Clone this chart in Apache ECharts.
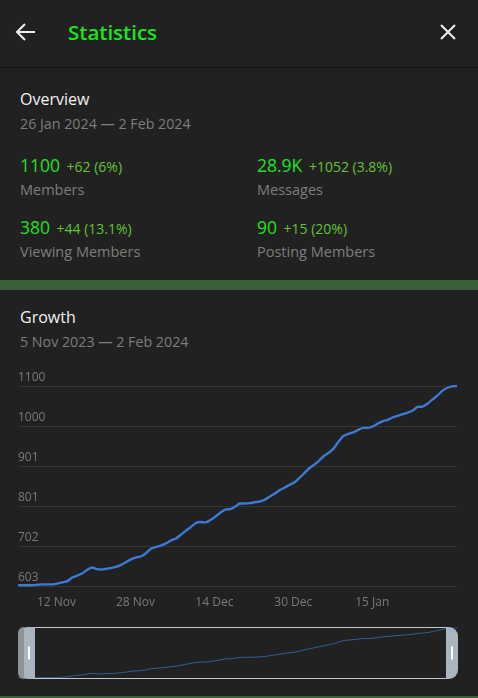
<!DOCTYPE html>
<html>
<head>
<meta charset="utf-8">
<title>Statistics</title>
<script src="https://cdn.jsdelivr.net/npm/echarts@6/dist/echarts.min.js"></script>
<style>
html,body{margin:0;padding:0;background:#212121;width:478px;height:698px;overflow:hidden;font-family:"Open Sans",sans-serif;}
.t{position:absolute;white-space:nowrap;line-height:24px;}
.head{position:absolute;left:0;top:67px;width:478px;height:1px;background:#111;}
.band{position:absolute;left:0;width:478px;background:#3a5f3a;}
.title{font-size:16px;color:#f2f2f2;}
.date{font-size:14.25px;color:#7d7d7d;}
.num{font-size:17.5px;color:#1fe31f;}
.num span{font-size:14px;color:#62c431;margin-left:2px;}
.lab{font-size:14.5px;color:#7d7d7d;}
svg{position:absolute;}
#main{position:absolute;left:0;top:360px;width:478px;height:336px;}
</style>
</head>
<body>
	<svg style="left:14px;top:20px" width="24" height="24" viewBox="0 0 24 24" fill="none" stroke="#eee" stroke-width="2">
		<path d="M21 12H3M11 4l-8 8 8 8"/>
	</svg>
	<div class="t" style="left:68px;top:20px;font-size:20.5px;font-weight:600;color:#1fe31f">Statistics</div>
	<svg style="left:436px;top:20px" width="24" height="24" viewBox="0 0 24 24" fill="none" stroke="#eee" stroke-width="2">
		<path d="M5 5l14 14M19 5L5 19"/>
	</svg>
	<div class="head"></div>

	<div class="t title" style="left:20px;top:87px">Overview</div>
	<div class="t date" style="left:20px;top:112px">26 Jan 2024 — 2 Feb 2024</div>

	<div class="t num" style="left:20px;top:153px">1100 <span>+62 (6%)</span></div>
	<div class="t lab" style="left:20px;top:178px">Members</div>
	<div class="t num" style="left:257px;top:153px">28.9K <span>+1052 (3.8%)</span></div>
	<div class="t lab" style="left:257px;top:178px">Messages</div>
	<div class="t num" style="left:20px;top:215px">380 <span>+44 (13.1%)</span></div>
	<div class="t lab" style="left:20px;top:240px">Viewing Members</div>
	<div class="t num" style="left:257px;top:215px">90 <span>+15 (20%)</span></div>
	<div class="t lab" style="left:257px;top:240px">Posting Members</div>

	<div class="band" style="top:280px;height:10px"></div>

	<div class="t title" style="left:20px;top:305px">Growth</div>
	<div class="t date" style="left:20px;top:330px">5 Nov 2023 — 2 Feb 2024</div>

	<div id="main"></div>
	<div class="band" style="top:696px;height:2px"></div>
<script>
// 90 days, 5 Nov 2023 to 2 Feb 2024
var months = ['Nov','Dec','Jan','Feb'];
var monthDays = [30,31,31,2];
var firstDay = 5;
var members = [
	605,605,605,605,606,607,607,607,609,612,
	615,624,629,634,643,649,645,644,646,648,
	651,656,663,670,674,677,685,696,700,704,
	709,716,721,730,740,749,759,762,761,767,
	775,785,793,794,800,808,808,809,811,813,
	817,825,832,841,847,854,860,871,883,895,
	904,914,926,934,945,962,976,981,985,991,
	996,996,1000,1007,1013,1016,1022,1026,1030,1034,
	1039,1048,1049,1056,1066,1076,1088,1095,1099,1100
];
var yTicks = [603,702,801,901,1000,1100];
var xLabels = ['12 Nov','28 Nov','14 Dec','30 Dec','15 Jan'];

var days = [];
var m = 0, d = firstDay;
for (var i = 0; i < members.length; i++) {
	days.push(d + ' ' + months[m]);
	d++;
	if (d > monthDays[m]) { d = 1; m++; }
}

var myChart = echarts.init(document.getElementById('main'));
var textFont = '"Open Sans", sans-serif';
var handleColor = '#a9b5c1';

myChart.setOption({
	animation: false,
	backgroundColor: 'transparent',
	grid: [
		{ left: 18, top: 26, width: 439, height: 200 },
		{ left: 18, top: 268, width: 440, height: 50 }
	],
	xAxis: [
		{
			type: 'category',
			gridIndex: 0,
			boundaryGap: false,
			data: days,
			axisLine: { show: false },
			axisTick: { show: false },
			splitLine: { show: false },
			axisLabel: {
				color: '#7a7a7a',
				fontSize: 12,
				fontFamily: textFont,
				margin: 11,
				padding: [0, 0, 0, 8],
				interval: function (index, value) {
					return xLabels.indexOf(value) >= 0;
				}
			}
		},
		{
			type: 'category',
			gridIndex: 1,
			boundaryGap: false,
			data: days,
			axisLine: { show: false },
			axisTick: { show: false },
			axisLabel: { show: false },
			splitLine: { show: false }
		}
	],
	yAxis: [
		{
			type: 'value',
			gridIndex: 0,
			min: 603,
			max: 1100,
			axisLine: { show: false },
			axisTick: { show: false, customValues: yTicks },
			splitLine: { show: true, lineStyle: { color: '#343434', width: 1 } },
			axisLabel: {
				customValues: yTicks,
				inside: true,
				margin: 0,
				color: '#7a7a7a',
				fontSize: 12,
				fontFamily: textFont,
				verticalAlign: 'bottom',
				padding: [0, 0, 2.5, 0],
				formatter: function (value) {
					return String(value);
				}
			}
		},
		{
			type: 'value',
			gridIndex: 1,
			min: 603,
			max: 1100,
			axisLine: { show: false },
			axisTick: { show: false },
			axisLabel: { show: false },
			splitLine: { show: false }
		}
	],
	series: [
		{
			name: 'Members',
			type: 'line',
			xAxisIndex: 0,
			yAxisIndex: 0,
			data: members,
			showSymbol: false,
			smooth: 0.2,
			lineStyle: { color: '#3a7bd5', width: 2.4 }
		},
		{
			name: 'Members overview',
			type: 'line',
			xAxisIndex: 1,
			yAxisIndex: 1,
			data: members,
			showSymbol: false,
			lineStyle: { color: '#2f5f9e', width: 1 }
		}
	],
	// range selector frame and handles
	graphic: [
		{ type: 'line', z: 10, shape: { x1: 35, y1: 267.5, x2: 446, y2: 267.5 }, style: { stroke: '#c4c8cc', lineWidth: 1 } },
		{ type: 'line', z: 10, shape: { x1: 35, y1: 318.5, x2: 446, y2: 318.5 }, style: { stroke: '#c4c8cc', lineWidth: 1 } },
		{ type: 'rect', z: 10, shape: { x: 18, y: 267, width: 17, height: 52, r: [9, 0, 0, 9] }, style: { fill: handleColor } },
		{ type: 'rect', z: 10, shape: { x: 18, y: 267, width: 6, height: 52, r: [9, 0, 0, 9] }, style: { fill: '#8f9499' } },
		{ type: 'rect', z: 10, shape: { x: 446, y: 267, width: 12, height: 52, r: [0, 9, 9, 0] }, style: { fill: handleColor } },
		{ type: 'rect', z: 11, shape: { x: 28, y: 286.5, width: 2, height: 13 }, style: { fill: '#fff' } },
		{ type: 'rect', z: 11, shape: { x: 451, y: 286.5, width: 2, height: 13 }, style: { fill: '#fff' } }
	]
});
</script>
</body>
</html>
